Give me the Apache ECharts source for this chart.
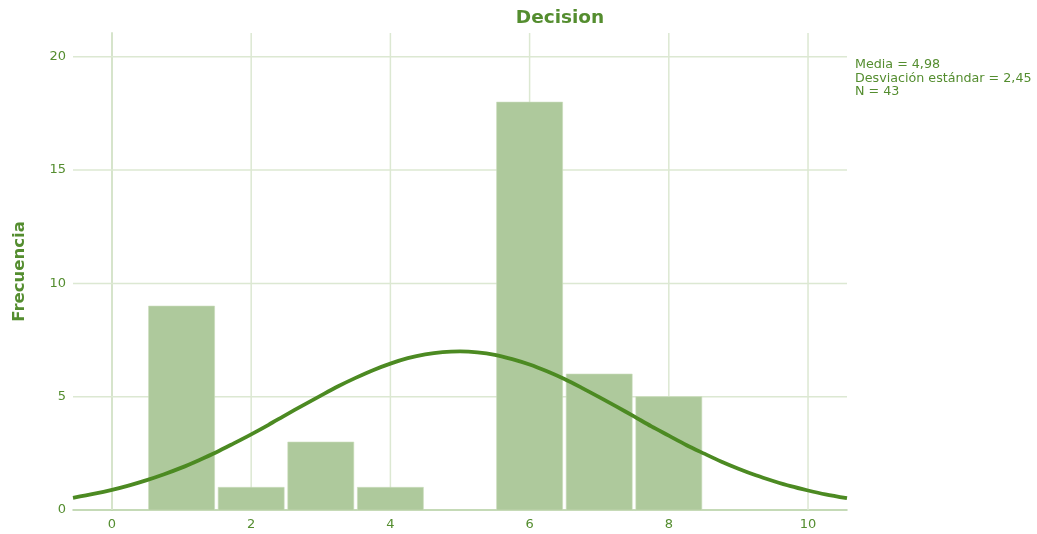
<!DOCTYPE html>
<html>
<head>
<meta charset="utf-8">
<script src="https://cdn.jsdelivr.net/npm/echarts@6/dist/echarts.min.js"></script>
<style>
  html, body { margin: 0; padding: 0; background: #fff; }
  #chart { width: 1037px; height: 534px; }
</style>
</head>
<body>
<div id="chart"></div>
<script>
// histogram bins (centre, count)
var binCenters = [1, 2, 3, 4, 6, 7, 8]
var binCounts = [9, 1, 3, 1, 18, 6, 5]

// normal curve
var curveX = [-0.56, -0.25, 0, 0.25, 0.5, 0.75, 1, 1.25, 1.5, 1.75, 2, 2.25, 2.5, 2.75, 3, 3.25, 3.5, 3.75, 4, 4.25, 4.5, 4.75, 5,
  5.25, 5.5, 5.75, 6, 6.25, 6.5, 6.75, 7, 7.25, 7.5, 7.75, 8, 8.25, 8.5, 8.75, 9, 9.25, 9.5, 9.75, 10, 10.25, 10.56]
var curveY = [0.54, 0.72, 0.89, 1.09, 1.32, 1.58, 1.87, 2.2, 2.55, 2.94, 3.34, 3.76, 4.2, 4.63, 5.05, 5.46, 5.83, 6.17, 6.46, 6.7, 6.87, 6.97, 7.0,
  6.96, 6.85, 6.66, 6.42, 6.12, 5.78, 5.39, 4.98, 4.56, 4.13, 3.69, 3.28, 2.87, 2.5, 2.14, 1.82, 1.53, 1.28, 1.05, 0.86, 0.69, 0.52]

var xTicks = [0, 2, 4, 6, 8, 10]
var yTicks = [0, 5, 10, 15, 20]

var statLines = ['Media = 4,98', 'Desviación estándar = 2,45', 'N = 43']

var green = '#548d2f'
var gridColor = '#dce8d2'
var font = '"DejaVu Sans", Verdana, sans-serif'

var chart = echarts.init(document.getElementById('chart'))

function gridLine(vertical) {
  return function (params, api) {
    var v = api.value(0)
    var a = vertical ? api.coord([v, 0]) : api.coord([-0.56, v])
    var b = vertical ? api.coord([v, 21.05]) : api.coord([10.56, v])
    return {
      type: 'line',
      shape: { x1: a[0], y1: a[1], x2: b[0], y2: b[1] },
      style: { stroke: gridColor, lineWidth: 1.5 }
    }
  }
}

chart.setOption({
  animation: false,
  textStyle: { fontFamily: font },
  title: {
    text: 'Decision',
    left: 555,
    top: 4,
    textAlign: 'center',
    textStyle: { fontSize: 18.5, fontWeight: 'bold', color: green, fontFamily: font }
  },
  graphic: [
    {
      type: 'text',
      left: 855,
      top: 58,
      style: {
        text: statLines.join('\n'),
        fill: green,
        font: '12.7px ' + font,
        lineHeight: 13.5
      }
    }
  ],
  grid: {
    left: 73,
    right: 190,
    top: 33,
    bottom: 24,
    outerBoundsMode: 'none',
    containLabel: false
  },
  xAxis: {
    type: 'value',
    min: -0.56,
    max: 10.56,
    axisLine: { show: true, onZero: false, lineStyle: { color: '#b3cea0', width: 1.5 } },
    axisTick: { show: false },
    axisLabel: {
      color: green,
      fontSize: 13,
      margin: 8,
      customValues: xTicks
    },
    splitLine: { show: false }
  },
  yAxis: {
    type: 'value',
    name: 'Frecuencia',
    nameLocation: 'middle',
    nameGap: 45,
    nameTextStyle: { color: green, fontSize: 16.5, fontWeight: 'bold', fontFamily: font },
    min: 0,
    max: 21.05,
    axisLine: { show: true, lineStyle: { color: '#b3cea0', width: 1.5 } },
    axisTick: { show: false },
    axisLabel: { color: green, fontSize: 13, margin: 7, customValues: yTicks },
    splitLine: { show: false }
  },
  series: [
    {
      type: 'custom',
      silent: true,
      z: 1,
      data: xTicks,
      renderItem: gridLine(true)
    },
    {
      type: 'custom',
      silent: true,
      z: 1,
      data: yTicks.slice(1),
      renderItem: gridLine(false)
    },
    {
      type: 'custom',
      z: 2,
      data: binCenters.map(function (c, i) { return [c, binCounts[i]] }),
      renderItem: function (params, api) {
        var c = api.value(0)
        var lt = api.coord([c - 0.5, api.value(1)])
        var rb = api.coord([c + 0.5, 0])
        return {
          type: 'rect',
          shape: {
            x: lt[0] + 1.8,
            y: lt[1],
            width: rb[0] - lt[0] - 3.6,
            height: rb[1] - lt[1]
          },
          style: { fill: '#aec99c', stroke: '#c9dcbb', lineWidth: 0.6 }
        }
      }
    },
    {
      type: 'line',
      z: 3,
      smooth: 0.3,
      showSymbol: false,
      data: curveX.map(function (x, i) { return [x, curveY[i]] }),
      lineStyle: { color: '#4c8a22', width: 3.8 }
    }
  ]
})
</script>
</body>
</html>
